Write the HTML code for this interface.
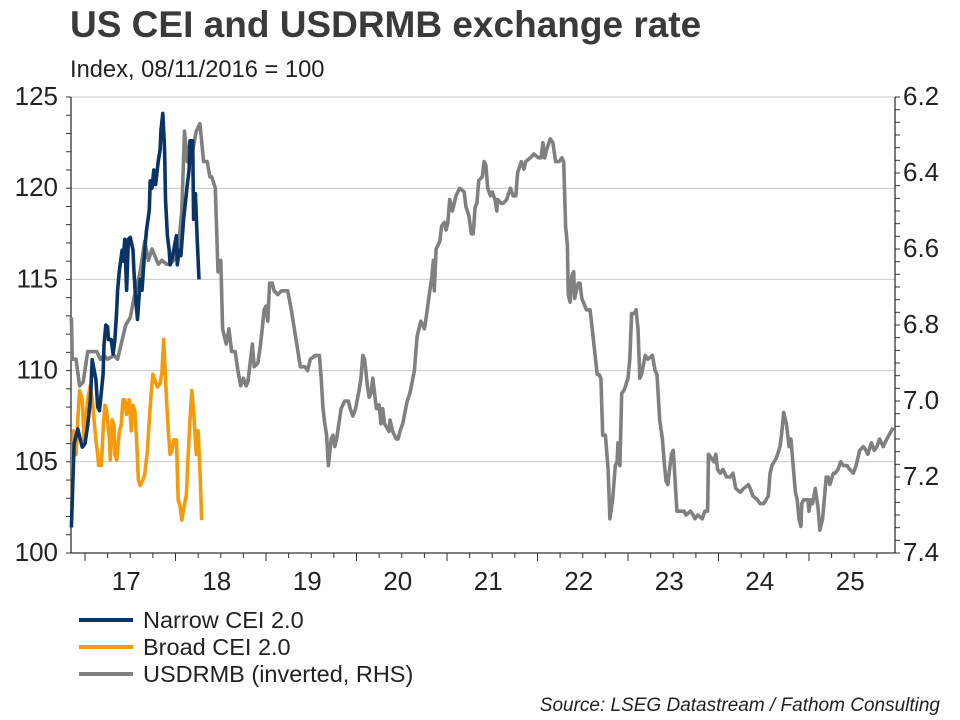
<!DOCTYPE html>
<html><head><meta charset="utf-8"><style>
body{margin:0;background:#fff;}
svg{display:block;font-family:"Liberation Sans",Arial,sans-serif;}
</style></head><body>
<svg id="chart" width="960" height="720" viewBox="0 0 960 720">
<text x="70" y="37" font-size="37" font-weight="bold" fill="#3a3a3a">US CEI and USDRMB exchange rate</text>
<text x="70" y="77" font-size="23.7" fill="#222">Index, 08/11/2016 = 100</text>
<g id="grid"></g>
<g id="axes"></g>
<g id="series"></g>
<g>
<g><line x1="79" y1="620" x2="133" y2="620" stroke="#0b3466" stroke-width="4"/><text x="143" y="628" font-size="23.5" fill="#222">Narrow CEI 2.0</text></g>
<g><line x1="79" y1="647" x2="133" y2="647" stroke="#f59b0b" stroke-width="4"/><text x="143" y="655" font-size="23.5" fill="#222">Broad CEI 2.0</text></g>
<g><line x1="79" y1="674" x2="133" y2="674" stroke="#808080" stroke-width="4"/><text x="143" y="682" font-size="23.5" fill="#222">USDRMB (inverted, RHS)</text></g>
</g>
<text x="940" y="711" font-size="19" font-style="italic" fill="#222" text-anchor="end">Source: LSEG Datastream / Fathom Consulting</text>
</svg>
<script>
const leftTicks=[100,105,110,115,120,125];
const rightTicks=["6.2","6.4","6.6","6.8","7.0","7.2","7.4"];
const yearLabels=["17","18","19","20","21","22","23","24","25"];
const narrowDates=[2016.85,2016.86,2016.88,2016.92,2016.97,2017.00,2017.03,2017.06,2017.08,2017.12,2017.14,2017.16,2017.20,2017.21,2017.23,2017.25,2017.26,2017.29,2017.31,2017.33,2017.35,2017.36,2017.38,2017.41,2017.42,2017.44,2017.46,2017.48,2017.50,2017.53,2017.54,2017.56,2017.58,2017.61,2017.63,2017.66,2017.68,2017.71,2017.72,2017.74,2017.76,2017.78,2017.81,2017.83,2017.84,2017.86,2017.88,2017.89,2017.91,2017.93,2017.94,2017.96,2017.98,2018.01,2018.02,2018.04,2018.06,2018.09,2018.13,2018.15,2018.16,2018.19,2018.20,2018.22,2018.24,2018.26];
const narrowValues=[101.4,103.0,106.0,106.8,105.8,106.0,107.0,108.4,110.6,109.5,108.0,107.8,109.8,111.4,112.5,112.4,111.7,111.7,110.9,111.7,113.3,114.4,115.5,116.6,116.0,117.2,114.4,117.2,117.3,116.6,115.5,113.9,112.8,115.0,114.4,116.6,117.7,118.8,120.4,120.0,121.0,120.2,121.5,122.1,123.2,124.1,122.1,119.4,117.4,116.6,115.8,116.1,116.6,117.4,115.8,116.6,116.3,118.3,120.2,121.0,122.6,122.6,118.3,119.7,117.2,115.0];
const broadDates=[2016.85,2016.86,2016.87,2016.89,2016.90,2016.92,2016.94,2016.97,2016.99,2017.01,2017.03,2017.06,2017.08,2017.10,2017.12,2017.14,2017.15,2017.18,2017.20,2017.22,2017.24,2017.27,2017.28,2017.30,2017.32,2017.33,2017.35,2017.38,2017.40,2017.42,2017.44,2017.46,2017.49,2017.51,2017.53,2017.55,2017.57,2017.59,2017.61,2017.64,2017.66,2017.69,2017.71,2017.73,2017.75,2017.77,2017.80,2017.83,2017.85,2017.87,2017.90,2017.92,2017.94,2017.96,2017.98,2018.01,2018.03,2018.05,2018.07,2018.09,2018.12,2018.14,2018.16,2018.18,2018.20,2018.23,2018.25,2018.27,2018.29];
const broadValues=[102.6,102.9,106.7,106.2,105.4,107.3,108.9,108.4,106.2,107.3,108.4,109.2,108.4,107.3,106.2,105.4,104.8,104.8,106.7,108.1,107.8,106.2,105.1,107.3,107.0,105.4,105.1,106.7,107.0,108.4,108.4,107.6,108.4,106.7,108.1,107.8,106.2,104.0,103.7,104.0,104.3,105.6,107.3,108.7,109.8,109.5,109.1,109.3,109.9,111.7,108.4,106.7,105.4,105.6,106.2,106.2,102.9,102.6,101.8,102.4,103.2,105.4,107.3,108.9,107.8,105.4,106.7,104.6,101.8];
const rmbDates=[2016.85,2016.86,2016.90,2016.94,2016.98,2017.03,2017.08,2017.13,2017.17,2017.21,2017.25,2017.32,2017.36,2017.41,2017.45,2017.50,2017.54,2017.61,2017.66,2017.70,2017.74,2017.81,2017.85,2017.90,2017.94,2017.98,2018.03,2018.07,2018.10,2018.13,2018.16,2018.19,2018.23,2018.27,2018.31,2018.35,2018.38,2018.40,2018.44,2018.47,2018.50,2018.52,2018.56,2018.59,2018.62,2018.66,2018.69,2018.72,2018.75,2018.78,2018.80,2018.85,2018.87,2018.91,2018.94,2018.98,2019.00,2019.02,2019.04,2019.07,2019.09,2019.13,2019.17,2019.22,2019.24,2019.28,2019.38,2019.43,2019.46,2019.49,2019.55,2019.59,2019.61,2019.63,2019.65,2019.67,2019.69,2019.72,2019.74,2019.76,2019.78,2019.83,2019.87,2019.91,2019.93,2019.96,2019.99,2020.03,2020.05,2020.07,2020.09,2020.12,2020.14,2020.16,2020.18,2020.22,2020.25,2020.27,2020.29,2020.31,2020.36,2020.37,2020.40,2020.44,2020.46,2020.48,2020.51,2020.56,2020.59,2020.64,2020.67,2020.71,2020.75,2020.77,2020.81,2020.83,2020.85,2020.86,2020.88,2020.92,2020.94,2020.97,2020.99,2021.01,2021.03,2021.06,2021.10,2021.14,2021.19,2021.21,2021.24,2021.27,2021.29,2021.31,2021.33,2021.35,2021.39,2021.41,2021.43,2021.45,2021.48,2021.50,2021.53,2021.55,2021.56,2021.60,2021.62,2021.66,2021.70,2021.73,2021.76,2021.78,2021.82,2021.85,2021.87,2021.92,2021.96,2022.01,2022.04,2022.06,2022.08,2022.10,2022.14,2022.17,2022.20,2022.24,2022.27,2022.29,2022.31,2022.33,2022.34,2022.36,2022.38,2022.40,2022.41,2022.45,2022.47,2022.49,2022.54,2022.58,2022.60,2022.66,2022.68,2022.70,2022.72,2022.75,2022.76,2022.78,2022.80,2022.83,2022.86,2022.88,2022.89,2022.91,2022.93,2022.96,2023.00,2023.02,2023.04,2023.07,2023.09,2023.11,2023.13,2023.15,2023.19,2023.22,2023.27,2023.30,2023.32,2023.35,2023.38,2023.40,2023.42,2023.44,2023.48,2023.50,2023.52,2023.54,2023.62,2023.64,2023.69,2023.72,2023.74,2023.77,2023.82,2023.85,2023.88,2023.89,2023.92,2023.95,2023.97,2023.99,2024.02,2024.05,2024.09,2024.13,2024.16,2024.19,2024.24,2024.28,2024.33,2024.35,2024.38,2024.43,2024.46,2024.50,2024.55,2024.57,2024.59,2024.64,2024.68,2024.70,2024.72,2024.75,2024.78,2024.80,2024.85,2024.87,2024.89,2024.91,2024.92,2024.94,2024.99,2025.00,2025.02,2025.04,2025.07,2025.10,2025.12,2025.15,2025.19,2025.21,2025.23,2025.27,2025.29,2025.32,2025.35,2025.38,2025.42,2025.45,2025.49,2025.52,2025.56,2025.60,2025.63,2025.65,2025.69,2025.72,2025.75,2025.78,2025.82,2025.86,2025.93];
const rmbValues=[6.78,6.89,6.89,6.96,6.95,6.87,6.87,6.87,6.89,6.88,6.89,6.88,6.89,6.84,6.80,6.78,6.73,6.66,6.58,6.63,6.60,6.64,6.63,6.64,6.64,6.63,6.60,6.50,6.29,6.37,6.32,6.34,6.29,6.27,6.37,6.37,6.41,6.41,6.44,6.66,6.63,6.81,6.85,6.81,6.87,6.87,6.92,6.96,6.94,6.96,6.95,6.85,6.91,6.90,6.85,6.76,6.75,6.79,6.69,6.69,6.71,6.72,6.71,6.71,6.71,6.76,6.91,6.91,6.92,6.89,6.88,6.88,6.94,7.02,7.06,7.09,7.17,7.10,7.09,7.12,7.10,7.02,7.00,7.00,7.02,7.04,7.02,6.97,6.94,6.88,6.89,6.96,6.99,6.98,6.94,7.02,7.01,7.06,7.02,7.06,7.08,7.05,7.08,7.10,7.10,7.08,7.06,7.00,6.98,6.92,6.83,6.79,6.81,6.78,6.71,6.68,6.63,6.71,6.60,6.58,6.54,6.53,6.55,6.53,6.47,6.50,6.46,6.44,6.45,6.49,6.51,6.56,6.56,6.49,6.48,6.42,6.41,6.37,6.38,6.44,6.46,6.45,6.47,6.50,6.47,6.48,6.48,6.47,6.44,6.46,6.46,6.40,6.37,6.39,6.37,6.36,6.35,6.36,6.36,6.32,6.36,6.34,6.31,6.32,6.37,6.37,6.36,6.37,6.54,6.59,6.72,6.74,6.67,6.66,6.73,6.69,6.69,6.73,6.76,6.76,6.80,6.93,6.93,6.94,7.09,7.09,7.12,7.18,7.31,7.26,7.17,7.16,7.11,7.17,6.98,6.97,6.94,6.89,6.77,6.77,6.76,6.81,6.94,6.93,6.88,6.89,6.88,6.92,6.93,7.05,7.10,7.16,7.21,7.22,7.14,7.13,7.21,7.29,7.29,7.30,7.29,7.30,7.31,7.30,7.31,7.29,7.29,7.14,7.15,7.16,7.14,7.18,7.19,7.18,7.20,7.20,7.19,7.23,7.24,7.23,7.22,7.23,7.25,7.26,7.27,7.27,7.25,7.19,7.17,7.15,7.12,7.08,7.03,7.06,7.12,7.10,7.24,7.26,7.31,7.33,7.27,7.26,7.26,7.29,7.26,7.27,7.23,7.28,7.34,7.31,7.20,7.20,7.22,7.19,7.19,7.18,7.16,7.17,7.17,7.18,7.19,7.17,7.13,7.12,7.13,7.14,7.11,7.13,7.12,7.10,7.12,7.10,7.07];

const NS="http://www.w3.org/2000/svg";
const L=71,R=895,T=97,B=553;
const xOf=d=>85+(d-2017)*90.5;
const yL=v=>B-(v-100)/25*(B-T);
const yR=v=>T+(v-6.2)/1.2*(B-T);
function mk(tag,attrs,parent){const e=document.createElementNS(NS,tag);for(const k in attrs)e.setAttribute(k,attrs[k]);parent.appendChild(e);return e;}
const grid=document.getElementById('grid'),axes=document.getElementById('axes'),ser=document.getElementById('series');
leftTicks.forEach(v=>{
  if(v>100){const g=mk('line',{x1:L,x2:R,y1:yL(v),y2:yL(v),stroke:'#c8c8c8','stroke-width':1},grid);
  
  }
  const t=mk('text',{x:58,y:yL(v)+8,'font-size':26,'text-anchor':'end',fill:'#222'},axes);t.textContent=v;
  
  
});
for(let v=100;v<=125;v++){mk('line',{x1:L-5,x2:L,y1:yL(v),y2:yL(v),stroke:'#333','stroke-width':1},axes);}
rightTicks.forEach(s=>{
  const v=parseFloat(s);
  const t=mk('text',{x:903,y:yR(v)+8,'font-size':26,fill:'#222'},axes);t.textContent=s;
  
  
});
for(let i=0;i<=36;i++){const y=T+i*(B-T)/36;mk('line',{x1:R,x2:R+5,y1:y,y2:y,stroke:'#333','stroke-width':1},axes);}
mk('line',{x1:L,x2:L,y1:T,y2:B,stroke:'#333','stroke-width':1.3},axes);
mk('line',{x1:R,x2:R,y1:T,y2:B,stroke:'#333','stroke-width':1.3},axes);
mk('line',{x1:L,x2:R,y1:B,y2:B,stroke:'#333','stroke-width':1.3},axes);
for(let q=2017;q<2026;q+=0.25){const x=xOf(q);const major=Math.abs(q-Math.round(q))<1e-6;mk('line',{x1:x,x2:x,y1:B,y2:B+(major?8:5),stroke:'#333','stroke-width':1},axes);}
yearLabels.forEach((s,i)=>{const t=mk('text',{x:xOf(2017+i+0.5)-4,y:590,'font-size':26,'text-anchor':'middle',fill:'#222'},axes);t.textContent=s;
  
  });
function line(dates,vals,yf,color,name){
  const d=dates.map((t,i)=>(i?'L':'M')+xOf(t).toFixed(1)+','+yf(vals[i]).toFixed(1)).join('');
  const p=mk('path',{d:d,fill:'none',stroke:color,'stroke-width':3.6,'stroke-linejoin':'round'},ser);
  
  
}
line(rmbDates,rmbValues,yR,'#808080','usdrmb-line');
line(broadDates,broadValues,yL,'#f59b0b','broad-cei-line');
line(narrowDates,narrowValues,yL,'#0b3466','narrow-cei-line');
</script>
</body></html>
